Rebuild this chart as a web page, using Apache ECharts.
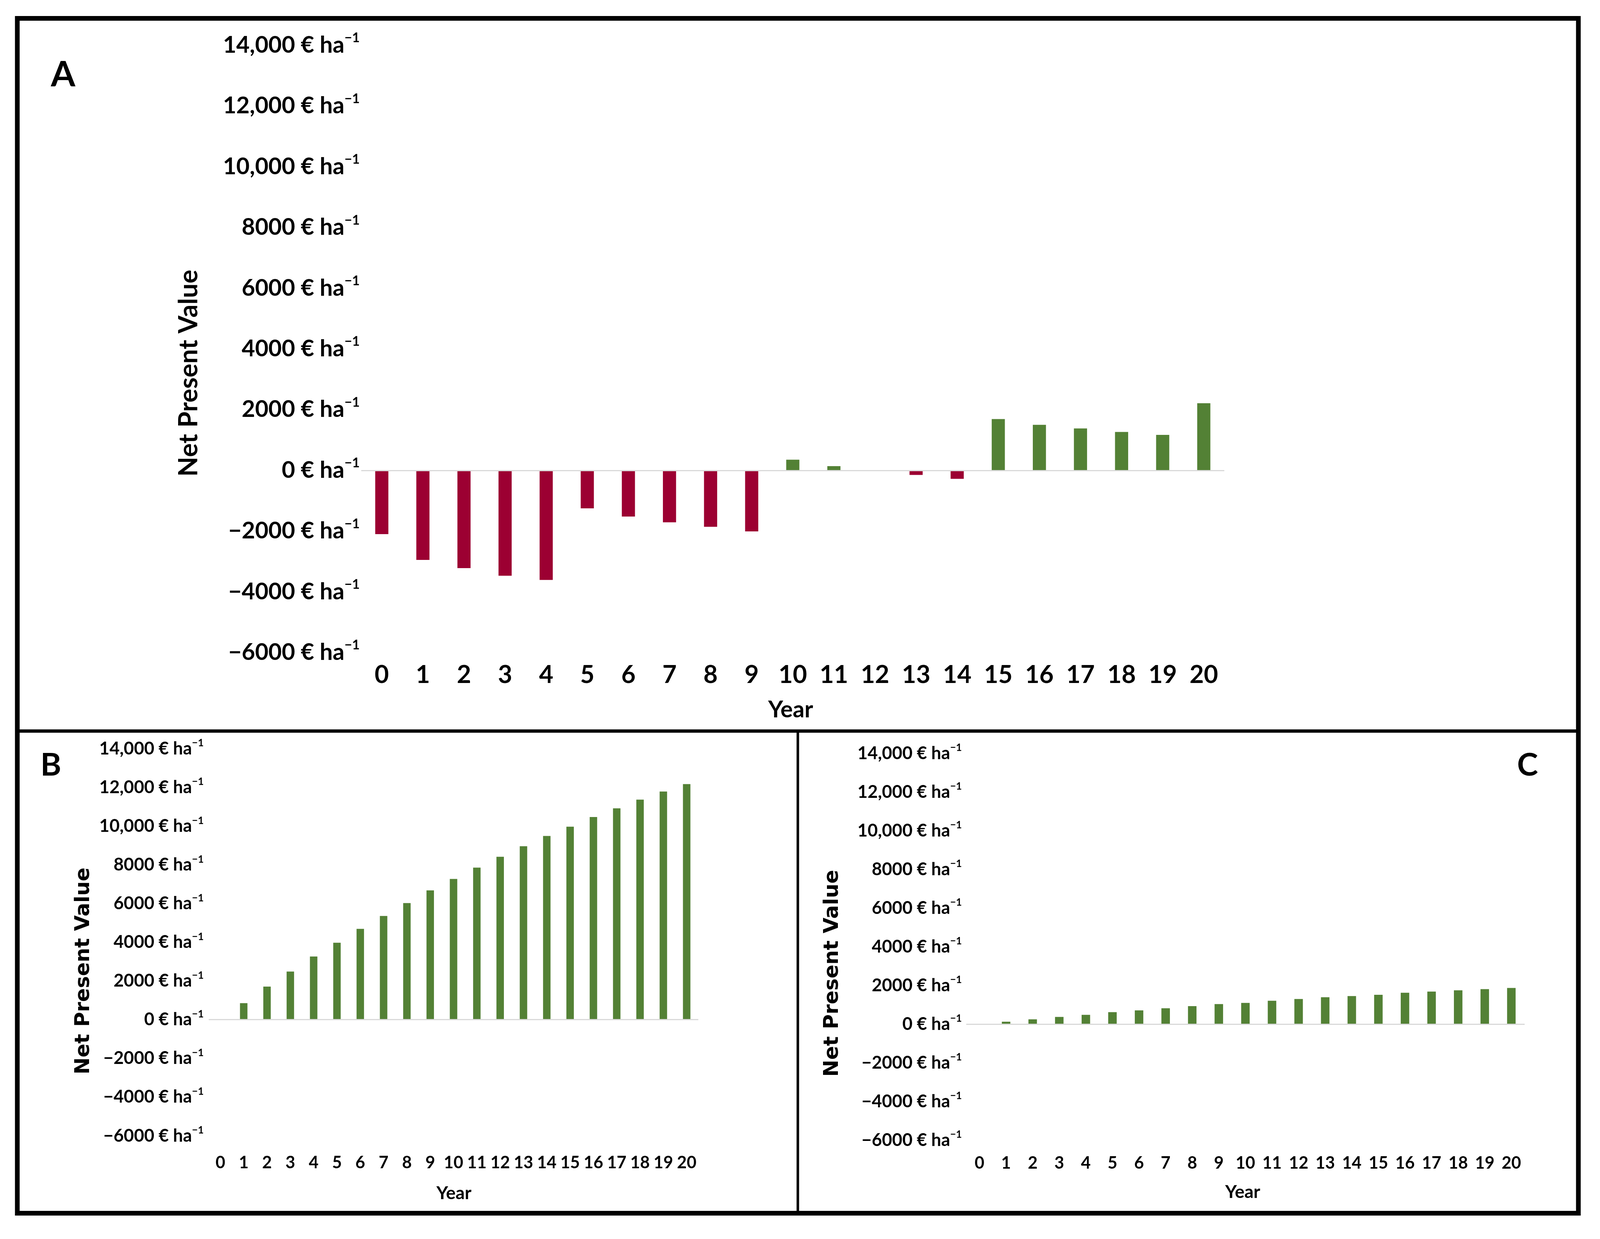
<!DOCTYPE html>
<html>
<head>
<meta charset="utf-8">
<script src="https://cdn.jsdelivr.net/npm/echarts@6/dist/echarts.min.js"></script>
<style>html,body{margin:0;padding:0;background:#fff;overflow:hidden}#c{position:absolute;left:0;top:0;width:100vw;height:100vh}</style>
</head>
<body>
<div id="c"></div>
<script>
// ---- data ----
const years = ['0','1','2','3','4','5','6','7','8','9','10','11','12','13','14','15','16','17','18','19','20'];
const npvA = [-2100,-2950,-3220,-3470,-3610,-1250,-1520,-1710,-1860,-2010,350,140,0,-150,-280,1690,1500,1380,1265,1170,2210];
const npvB = [0,854,1708,2484,3261,3975,4689,5357,6025,6677,7267,7857,8416,8960,9488,9969,10466,10916,11366,11786,12170];
const npvC = [0,124,247,371,479,618,710,819,927,1035,1097,1205,1297,1390,1452,1514,1622,1683,1745,1807,1869];
const yMin = -6000, yMax = 14000, yStep = 2000;
const panelLetters = ['A','B','C'];
const yTitle = 'Net Present Value';
const xTitle = 'Year';

// ---- style / layout (designed for a 4438 x 3171 canvas, scaled to the viewport) ----
const RED = '#9c0032', GREEN = '#538135';
const LF = 'Lato, "Open Sans", sans-serif';
const TF = '"DejaVu Sans", Verdana, sans-serif';
const W = window.innerWidth || 4438, H = window.innerHeight || 3171;
const kx = W / 4438, ky = H / 3171, k = Math.min(kx, ky);
const X = v => v * kx, Y = v => v * ky, F = v => Math.round(v * k);

function fmt(v){
  const a = Math.abs(v);
  const s = a >= 10000 ? a.toLocaleString('en-US') : String(a);
  return (v < 0 ? '\u2212' : '') + s + ' \u20ac ha{s|\u22121}';
}

function yAxisFor(idx, fs, margin){
  return {
    type:'value', gridIndex: idx, min: yMin, max: yMax, interval: yStep,
    axisLine:{show:false}, axisTick:{show:false}, splitLine:{show:false},
    axisLabel:{
      formatter: fmt, margin: X(margin), color:'#000', fontFamily: LF, fontWeight:'bold',
      fontSize: F(fs), lineHeight: F(fs*1.2),
      rich:{ s:{ fontFamily: LF, fontWeight:'bold', color:'#000', fontSize: F(fs*0.58), lineHeight: F(fs*0.72), verticalAlign:'top' } }
    }
  };
}
function xAxisFor(idx, fs, margin){
  return {
    type:'category', gridIndex: idx, data: years,
    axisLine:{show:false}, axisTick:{show:false},
    axisLabel:{ interval:0, margin: Y(margin), color:'#000', fontFamily: LF, fontWeight:'bold', fontSize: F(fs) }
  };
}
function barSeries(idx, data){
  return {
    type:'bar', xAxisIndex: idx, yAxisIndex: idx, data: data, barWidth:'32%',
    itemStyle:{ color: p => p.value < 0 ? RED : GREEN },
    markLine:{ silent:true, symbol:'none', animation:false, label:{show:false},
      lineStyle:{ color:'#d9d9d9', width: Math.max(1, 3*k), type:'solid' }, data:[{ yAxis:0 }] }
  };
}
function txt(x, y, s, font, rot){
  const o = {type:'text', x: X(x), y: Y(y), style:{text:s, font:font, fill:'#000', textAlign:'center', textVerticalAlign:'middle'}};
  if (rot) o.rotation = rot;
  return o;
}

const chart = echarts.init(document.getElementById('c'), null, {renderer:'canvas'});
chart.setOption({
  animation:false,
  backgroundColor:'#fff',
  grid:[
    {left:X(1002), top:Y(116), width:X(2394), height:Y(1554)},
    {left:X(579), top:Y(1916), width:X(1358), height:Y(991)},
    {left:X(2680), top:Y(1928), width:X(1549), height:Y(990)}
  ],
  xAxis:[ xAxisFor(0, 68, 26), xAxisFor(1, 47, 48), xAxisFor(2, 47, 38) ],
  yAxis:[ yAxisFor(0, 64, 4), yAxisFor(1, 49, 14), yAxisFor(2, 49, 12) ],
  series:[ barSeries(0, npvA), barSeries(1, npvB), barSeries(2, npvC) ],
  graphic:[
    {type:'rect', shape:{x:X(48), y:Y(47), width:X(4330), height:Y(3058)}, style:{fill:'none', stroke:'#000', lineWidth:13*k}},
    {type:'line', shape:{x1:X(48), y1:Y(1871), x2:X(4378), y2:Y(1871)}, style:{stroke:'#000', lineWidth:9*k}},
    {type:'line', shape:{x1:X(2213), y1:Y(1871), x2:X(2213), y2:Y(3105)}, style:{stroke:'#000', lineWidth:7*k}},
    txt(175, 192, panelLetters[0], 'bold '+F(98)+'px '+LF),
    txt(141, 1959, panelLetters[1], 'bold '+F(88)+'px '+LF),
    txt(4237, 1959, panelLetters[2], 'bold '+F(88)+'px '+LF),
    txt(524, 955, yTitle, 'bold '+F(71)+'px '+LF, Math.PI/2),
    txt(232, 2485, yTitle, 'bold '+F(56)+'px '+TF, Math.PI/2),
    txt(2309, 2491, yTitle, 'bold '+F(56)+'px '+TF, Math.PI/2),
    txt(2193, 1817, xTitle, 'bold '+F(64)+'px '+LF),
    txt(1259, 3054, xTitle, 'bold '+F(50)+'px '+LF),
    txt(3447, 3051, xTitle, 'bold '+F(50)+'px '+LF)
  ]
});
window.addEventListener('resize', () => chart.resize());
</script>
</body>
</html>
